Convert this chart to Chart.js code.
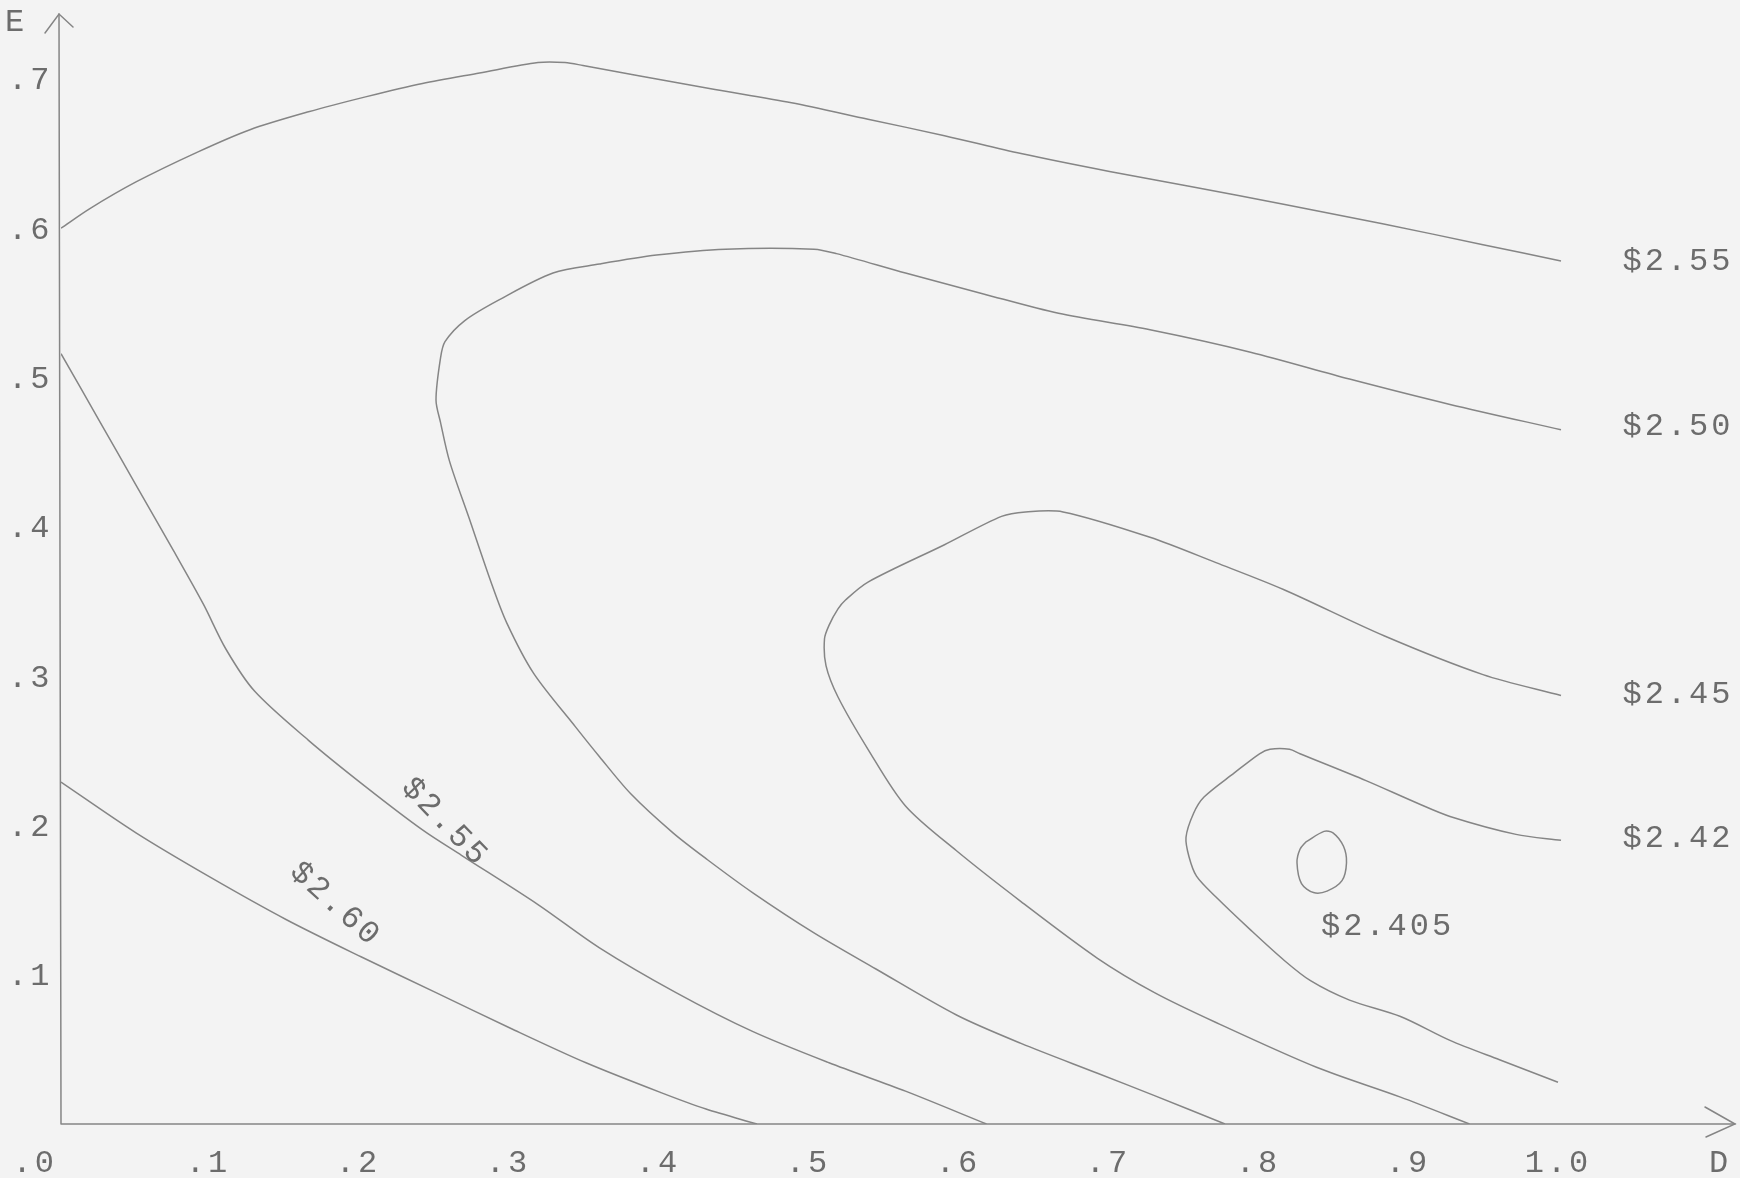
<!DOCTYPE html>
<html><head><meta charset="utf-8">
<script src="https://cdn.jsdelivr.net/npm/chart.js@4/dist/chart.umd.min.js"></script>
<style>html,body{margin:0;padding:0;background:#f3f3f3;}canvas{display:block;}</style>
</head><body>
<canvas id="c" width="1740" height="1178"></canvas>
<script>
// ---- tick labels / axis titles ----
const xTickValues = [0, 0.1, 0.2, 0.3, 0.4, 0.5, 0.6, 0.7, 0.8, 0.9, 1.0];
const xTickLabels = ['.0', '.1', '.2', '.3', '.4', '.5', '.6', '.7', '.8', '.9', '1.0'];
const yTickValues = [0.1, 0.2, 0.3, 0.4, 0.5, 0.6, 0.7];
const yTickLabels = ['.1', '.2', '.3', '.4', '.5', '.6', '.7'];
const xAxisTitle = 'D';
const yAxisTitle = 'E';

// ---- contour curves (D, E) ----
const c260D = [0.000,0.050,0.100,0.150,0.200,0.250,0.300,0.350,0.400,0.430,0.464];
const c260E = [0.229,0.195,0.165,0.137,0.112,0.088,0.064,0.041,0.021,0.010,0.000];

const c255lowD = [0.000,0.025,0.050,0.075,0.095,0.110,0.129,0.165,0.203,0.241,0.267,0.318,0.359,0.410,0.461,0.512,0.563,0.617];
const c255lowE = [0.516,0.472,0.428,0.384,0.348,0.318,0.290,0.257,0.226,0.197,0.180,0.147,0.118,0.088,0.062,0.041,0.022,0.000];

const c255topD = [0.000,0.019,0.050,0.091,0.126,0.165,0.203,0.241,0.279,0.318,0.336,0.348,0.386,0.436,0.487,0.538,0.589,0.640,0.699,0.753,0.815,0.881,0.948,1.000];
const c255topE = [0.600,0.613,0.631,0.651,0.666,0.678,0.688,0.697,0.704,0.711,0.711,0.709,0.702,0.693,0.684,0.673,0.662,0.650,0.638,0.628,0.616,0.603,0.589,0.578];

const c250D = [1.000,0.926,0.859,0.793,0.726,0.665,0.615,0.563,0.517,0.502,0.443,0.397,0.359,0.328,0.292,0.269,0.256,0.253,0.250,0.253,0.259,0.272,0.287,0.297,0.315,0.343,0.359,0.380,0.408,0.431,0.461,0.502,0.543,0.597,0.640,0.691,0.729,0.776];
const c250E = [0.465,0.482,0.499,0.517,0.532,0.543,0.556,0.570,0.583,0.586,0.586,0.582,0.576,0.570,0.552,0.538,0.524,0.513,0.485,0.470,0.444,0.406,0.362,0.336,0.302,0.266,0.246,0.221,0.195,0.177,0.155,0.128,0.104,0.073,0.054,0.034,0.019,0.000];

const c245D = [1.000,0.948,0.882,0.815,0.770,0.726,0.668,0.643,0.627,0.589,0.538,0.523,0.518,0.512,0.509,0.510,0.518,0.538,0.563,0.597,0.640,0.691,0.729,0.770,0.837,0.893,0.939];
const c245E = [0.287,0.301,0.327,0.358,0.376,0.393,0.410,0.410,0.407,0.388,0.363,0.351,0.345,0.334,0.325,0.307,0.286,0.251,0.213,0.183,0.149,0.111,0.088,0.068,0.038,0.018,0.000];

const c242D = [1.000,0.970,0.926,0.904,0.870,0.826,0.819,0.806,0.799,0.782,0.762,0.755,0.750,0.752,0.757,0.770,0.793,0.815,0.833,0.859,0.893,0.926,0.959,0.998];
const c242E = [0.190,0.194,0.206,0.215,0.230,0.248,0.251,0.251,0.248,0.235,0.219,0.208,0.192,0.179,0.166,0.152,0.130,0.110,0.096,0.083,0.072,0.056,0.043,0.028];

const c2405D = [0.830,0.842,0.848,0.855,0.857,0.854,0.844,0.835,0.827,0.824,0.826,0.830];
const c2405E = [0.189,0.196,0.195,0.186,0.175,0.163,0.156,0.155,0.161,0.175,0.184,0.189];

// ---- contour labels ----
const labelTexts = ['$2.60', '$2.55', '$2.55', '$2.50', '$2.45', '$2.42', '$2.405'];
const labelD     = [0.183, 0.256, 1.041, 1.041, 1.041, 1.041, 0.840];
const labelE     = [0.147, 0.202, 0.578, 0.467, 0.288, 0.191, 0.132];
const labelAngle = [42, 46, 0, 0, 0, 0, 0];

// ---- build ----
const LINE = '#858585';
const TEXT = '#6c6c6c';
const FONT = '32px "Liberation Mono", "DejaVu Sans Mono", monospace';

function pts(ds, es) { return ds.map((d, i) => ({ x: d, y: es[i] })); }
function curve(ds, es) {
  return { data: pts(ds, es), showLine: true, borderColor: LINE, borderWidth: 1.5,
           pointRadius: 0, tension: 0.3, fill: false };
}

const decor = {
  id: 'decor',
  beforeDraw(chart) {
    const ctx = chart.ctx;
    ctx.save();
    ctx.fillStyle = '#f3f3f3';
    ctx.fillRect(0, 0, chart.width, chart.height);
    ctx.restore();
  },
  beforeDatasetsDraw(chart) {
    const ctx = chart.ctx, a = chart.chartArea;
    const xs = chart.scales.x, ys = chart.scales.y;
    const x0 = xs.getPixelForValue(0), y0 = ys.getPixelForValue(0);
    ctx.save();
    ctx.strokeStyle = LINE; ctx.lineWidth = 1.5; ctx.lineCap = 'round';
    // axes
    ctx.beginPath();
    ctx.moveTo(x0, y0); ctx.lineTo(a.right, y0);
    ctx.moveTo(x0, y0); ctx.lineTo(x0 - 2, a.top);
    ctx.stroke();
    // arrowheads
    ctx.beginPath();
    ctx.moveTo(x0 - 16, a.top + 19); ctx.lineTo(x0 - 2, a.top); ctx.lineTo(x0 + 12, a.top + 13);
    ctx.moveTo(a.right - 30, y0 - 17); ctx.lineTo(a.right, y0); ctx.lineTo(a.right - 29, y0 + 13);
    ctx.stroke();
    // tick labels
    ctx.fillStyle = TEXT; ctx.font = FONT; ctx.letterSpacing = '3px';
    ctx.textBaseline = 'middle';
    xTickValues.forEach((v, i) => {
      const px = xs.getPixelForValue(v);
      if (i === 0) { ctx.textAlign = 'right'; ctx.fillText(xTickLabels[i], px - 4, y0 + 40); }
      else { ctx.textAlign = 'center'; ctx.fillText(xTickLabels[i], px - 3, y0 + 40); }
    });
    ctx.textAlign = 'left';
    yTickValues.forEach((v, i) => {
      ctx.fillText(yTickLabels[i], 8, ys.getPixelForValue(v) + 2);
    });
    // axis titles
    ctx.textAlign = 'center';
    ctx.fillText(yAxisTitle, 16, a.top + 9);
    ctx.fillText(xAxisTitle, a.right - 15, y0 + 40);
    ctx.restore();
  },
  afterDatasetsDraw(chart) {
    const ctx = chart.ctx;
    const xs = chart.scales.x, ys = chart.scales.y;
    ctx.save();
    ctx.fillStyle = TEXT; ctx.font = FONT; ctx.letterSpacing = '3px';
    ctx.textBaseline = 'middle';
    labelTexts.forEach((t, i) => {
      const px = xs.getPixelForValue(labelD[i]), py = ys.getPixelForValue(labelE[i]);
      ctx.save();
      ctx.translate(px, py);
      if (labelAngle[i]) { ctx.rotate(labelAngle[i] * Math.PI / 180); ctx.textAlign = 'center'; }
      else ctx.textAlign = 'left';
      ctx.fillText(t, 0, 0);
      ctx.restore();
    });
    ctx.restore();
  }
};

new Chart(document.getElementById('c'), {
  type: 'scatter',
  data: {
    datasets: [
      curve(c260D, c260E),
      curve(c255lowD, c255lowE),
      curve(c255topD, c255topE),
      curve(c250D, c250E),
      curve(c245D, c245E),
      curve(c242D, c242E),
      curve(c2405D, c2405E)
    ]
  },
  options: {
    responsive: false,
    animation: false,
    devicePixelRatio: 1,
    layout: { padding: { left: 61, right: 5, top: 14, bottom: 54 } },
    scales: {
      x: { type: 'linear', min: 0, max: 1.116, display: false },
      y: { type: 'linear', min: 0, max: 0.7435, display: false }
    },
    plugins: { legend: { display: false }, tooltip: { enabled: false } },
    events: []
  },
  plugins: [decor]
});
</script>
</body></html>
